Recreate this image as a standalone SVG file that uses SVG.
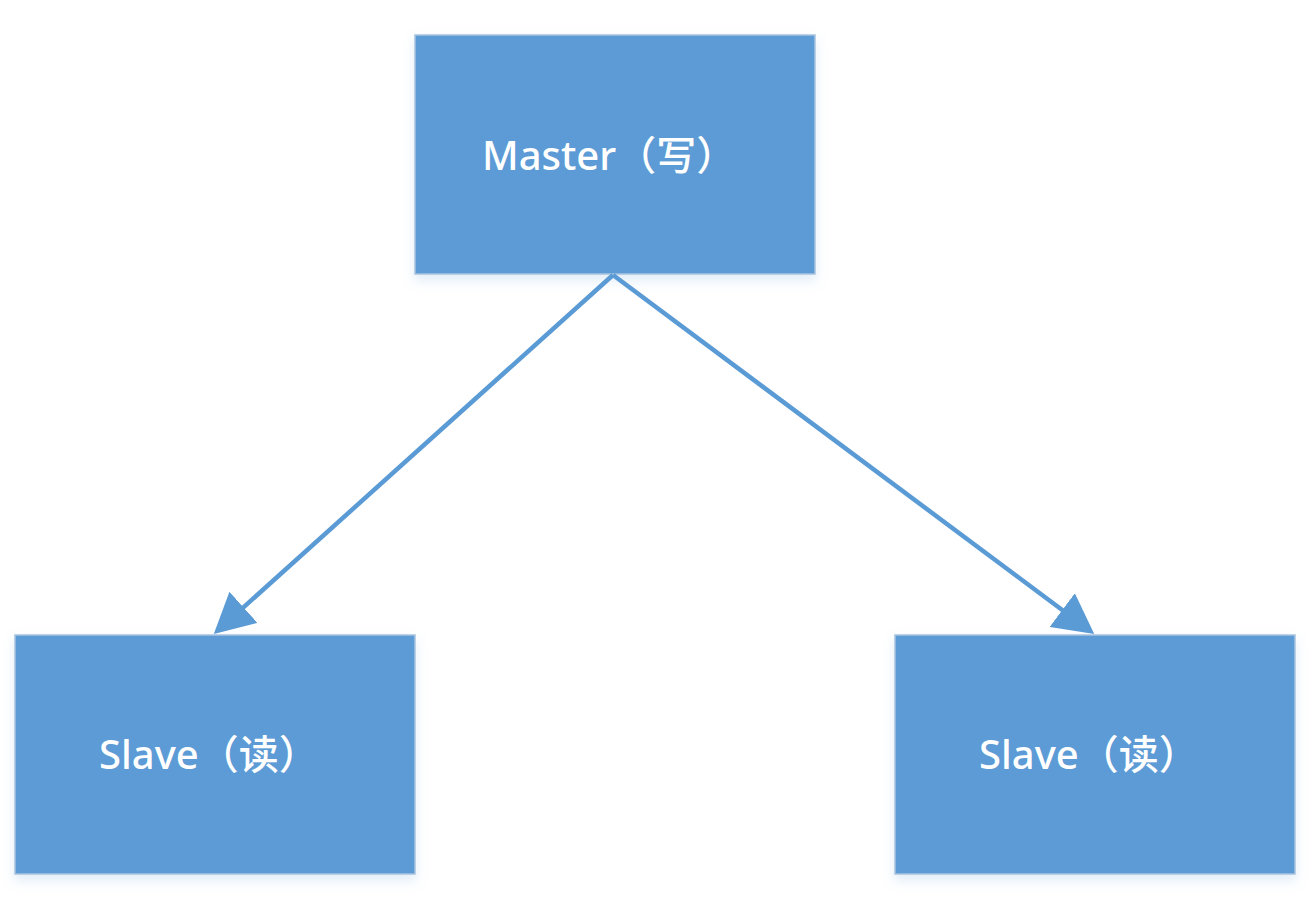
<svg xmlns="http://www.w3.org/2000/svg" width="1316" height="902" viewBox="0 0 1316 902">
  <style>
    .box { fill: #5B9BD5; stroke: #A9C4DE; stroke-width: 1.5; }
    .label { fill: #FFFFFF; font-family: "Noto Sans", "Noto Sans CJK SC", sans-serif; font-size: 40px; font-weight: 500; }
    .conn { stroke: #5B9BD5; stroke-width: 4.5; fill: none; }
  </style>
  <defs>
    <filter id="shadow" x="-10%" y="-10%" width="120%" height="130%">
      <feDropShadow dx="0" dy="6" stdDeviation="6" flood-color="#5B9BD5" flood-opacity="0.18"/>
    </filter>
    <marker id="arrow" markerUnits="userSpaceOnUse" markerWidth="40" markerHeight="42" refX="27" refY="20" orient="auto" viewBox="0 0 38 40">
      <path d="M0,0 L38,20 L0,40 Z" fill="#5B9BD5"/>
    </marker>
  </defs>
  <rect width="1316" height="902" fill="#FFFFFF"/>
  <g id="master">
    <rect class="box" x="415" y="35" width="400" height="239" filter="url(#shadow)"/>
    <text class="label" x="482" y="170">Master（写）</text>
  </g>
  <g id="slave-left">
    <rect class="box" x="15" y="635" width="400" height="239" filter="url(#shadow)"/>
    <text class="label" x="99" y="769">Slave（读）</text>
  </g>
  <g id="slave-right">
    <rect class="box" x="895" y="635" width="400" height="239" filter="url(#shadow)"/>
    <text class="label" x="979" y="769">Slave（读）</text>
  </g>
  <g id="connectors">
    <line class="conn" x1="613" y1="275" x2="222.4" y2="626.3" marker-end="url(#arrow)"/>
    <line class="conn" x1="613" y1="275" x2="1085" y2="627" marker-end="url(#arrow)"/>
  </g>
</svg>
